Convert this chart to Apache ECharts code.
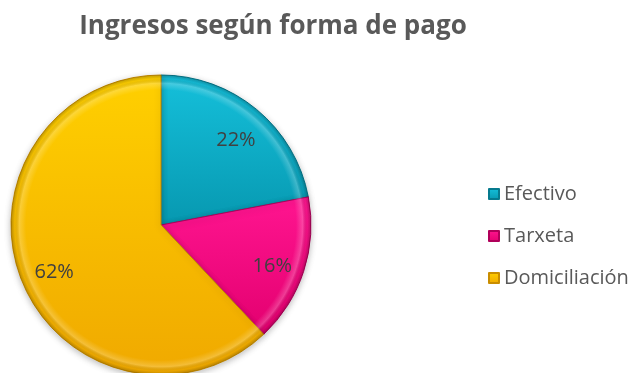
<!DOCTYPE html>
<html>
<head>
<meta charset="utf-8">
<script src="https://cdn.jsdelivr.net/npm/echarts@6/dist/echarts.min.js"></script>
<style>
  html, body { margin: 0; padding: 0; background: #ffffff; }
  #chart { width: 638px; height: 373px; }
</style>
</head>
<body>
<div id="chart"></div>
<script>
// Payment-method shares (percent of income)
var categories = ['Efectivo', 'Tarxeta', 'Domiciliación'];
var shares = [22, 16, 62];

// Fill shades per slice: light top, dark bottom, edge
var palette = [
  { top: '#15c0db', bottom: '#0798b0', edge: '#067a8e' },
  { top: '#ff1590', bottom: '#e3006f', edge: '#b0005a' },
  { top: '#ffd000', bottom: '#f0a900', edge: '#c98d00' }
];

var CX = 161, CY = 225, R = 150;

function sliceFill(p) {
  return new echarts.graphic.LinearGradient(0, 0, 0, 1, [
    { offset: 0, color: p.top },
    { offset: 1, color: p.bottom }
  ]);
}

var pieData = categories.map(function (name, i) {
  return {
    name: name,
    value: shares[i],
    itemStyle: {
      color: sliceFill(palette[i]),
      borderColor: palette[i].edge,
      borderWidth: 1
    }
  };
});

var plainData = categories.map(function (name, i) {
  return { name: name, value: shares[i] };
});

// soft rim highlight + darker outer edge, shared by all slices
var rimShade = new echarts.graphic.RadialGradient(CX, CY, R, [
  { offset: 0, color: 'rgba(255,255,255,0)' },
  { offset: 0.9, color: 'rgba(255,255,255,0)' },
  { offset: 0.945, color: 'rgba(255,255,255,0.22)' },
  { offset: 0.975, color: 'rgba(0,0,0,0.02)' },
  { offset: 1, color: 'rgba(0,0,0,0.22)' }
], true);

var chart = echarts.init(document.getElementById('chart'), null, { renderer: 'canvas' });

chart.setOption({
  animation: false,
  backgroundColor: '#ffffff',
  title: {
    text: 'Ingresos según forma de pago',
    left: 268,
    textAlign: 'center',
    top: 9,
    textStyle: {
      fontFamily: 'Open Sans',
      fontWeight: 'bold',
      fontSize: 26,
      color: '#595959'
    }
  },
  legend: {
    orient: 'vertical',
    left: 483,
    top: 178,
    itemWidth: 10,
    itemHeight: 10,
    itemGap: 20,
    icon: 'rect',
    data: categories,
    textStyle: {
      fontFamily: 'Open Sans',
      fontSize: 20,
      lineHeight: 22,
      color: '#595959',
      padding: [0, 0, 0, 0]
    }
  },
  series: [
    {
      type: 'pie',
      center: [CX, CY],
      radius: [0, R],
      startAngle: 90,
      clockwise: true,
      label: { show: false },
      labelLine: { show: false },
      emphasis: { disabled: true },
      itemStyle: {
        shadowBlur: 6,
        shadowColor: 'rgba(0,0,0,0.25)',
        shadowOffsetY: 2
      },
      data: pieData
    },
    {
      // rim shading drawn over the slices
      type: 'pie',
      center: [CX, CY],
      radius: [0, R],
      startAngle: 90,
      clockwise: true,
      silent: true,
      legendHoverLink: false,
      itemStyle: { color: rimShade, borderWidth: 0 },
      label: { show: false },
      labelLine: { show: false },
      emphasis: { disabled: true },
      data: plainData
    },
    {
      // transparent ring that only carries the percentage labels
      type: 'pie',
      center: [CX, CY],
      radius: [76, R],
      startAngle: 90,
      clockwise: true,
      silent: true,
      legendHoverLink: false,
      itemStyle: { color: 'rgba(0,0,0,0)' },
      label: {
        show: true,
        position: 'inside',
        formatter: '{d}%',
        offset: [1, 5],
        fontFamily: 'Open Sans',
        fontSize: 20,
        color: '#404040'
      },
      labelLine: { show: false },
      emphasis: { disabled: true },
      data: plainData
    }
  ]
});
</script>
</body>
</html>
